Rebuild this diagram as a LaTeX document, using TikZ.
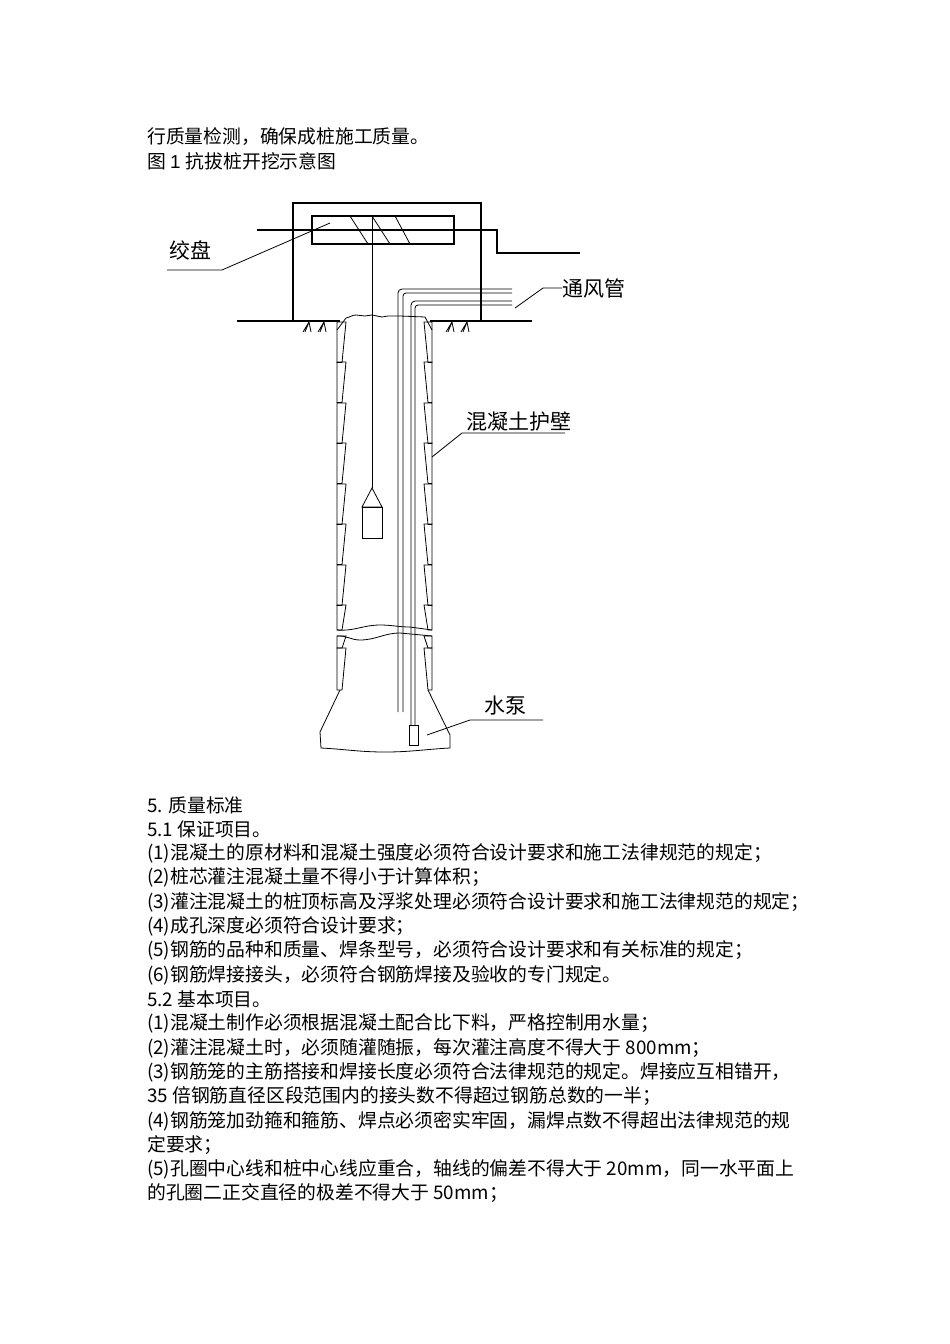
\documentclass[tikz,border=0pt]{standalone}
\usepackage{fontspec}
\setmainfont{Liberation Sans}
\newfontfamily\cjk{Noto Sans CJK SC}
\begin{document}
\begin{tikzpicture}[x=1pt,y=-1pt,
  txt/.style={anchor=west,inner sep=0,font=\fontsize{18.8}{20}\selectfont},
  lbl/.style={inner sep=0,font=\cjk\fontsize{21}{22}\selectfont},
  ln/.style={line width=1.1pt},
  thin/.style={line width=0.8pt}]
\useasboundingbox (0,0) rectangle (950,1344);
% text lines
\node[txt] (t1) at (147,137) {\cjk 行质量检测，确保成桩施工质量。};
\node[txt] (t2) at (147,161) {\cjk 图 \rmfamily 1 \cjk 抗拔桩开挖示意图};
\foreach \i/\y/\s in {
 3/805/{5. 质量标准},
 4/829/{5.1 保证项目。},
 5/853/{(1)混凝土的原材料和混凝土强度必须符合设计要求和施工法律规范的规定；},
 6/877/{(2)桩芯灌注混凝土量不得小于计算体积；},
 7/902/{(3)灌注混凝土的桩顶标高及浮浆处理必须符合设计要求和施工法律规范的规定；},
 8/926/{(4)成孔深度必须符合设计要求；},
 9/950/{(5)钢筋的品种和质量、焊条型号，必须符合设计要求和有关标准的规定；},
 10/975/{(6)钢筋焊接接头，必须符合钢筋焊接及验收的专门规定。},
 11/999/{5.2 基本项目。},
 12/1023/{(1)混凝土制作必须根据混凝土配合比下料，严格控制用水量；},
 13/1048/{(2)灌注混凝土时，必须随灌随振，每次灌注高度不得大于 800mm；},
 14/1072/{(3)钢筋笼的主筋搭接和焊接长度必须符合法律规范的规定。焊接应互相错开，},
 15/1096/{35 倍钢筋直径区段范围内的接头数不得超过钢筋总数的一半；},
 16/1121/{(4)钢筋笼加劲箍和箍筋、焊点必须密实牢固，漏焊点数不得超出法律规范的规},
 17/1145/{定要求；},
 18/1169/{(5)孔圈中心线和桩中心线应重合，轴线的偏差不得大于 20mm，同一水平面上},
 19/1193/{的孔圈二正交直径的极差不得大于 50mm；}}
 {\node[txt] (l\i) at (147,\y) {\cjk \s};}
% shed box
\draw[ln] (293,321) -- (293,203) -- (481,203) -- (481,321);
\draw[ln] (237,321) -- (340,321) (430,321) -- (532,321);
\draw[ln] (312,216) rectangle (454,244);
\draw[thin] (350,216) -- (368,244) (372,216) -- (390,244) (395,216) -- (410,244);
\draw[ln] (257,230) -- (497,230) -- (497,253) -- (580,253);
% soil hatches
\foreach \x in {303,318,446,461}{
 \draw[thin] (\x,332) -- (\x+6,322) -- (\x+8,332) (\x+6,322)--(\x+2,332);}
% rope and bucket
\draw[thin] (372,216) -- (372,488);
\draw[thin] (372,488) -- (362,507) -- (382,507) -- cycle;
\draw[thin] (362,507) rectangle (382,538);
% pile top
\draw[thin] (337,330) -- (346,318) to[out=10,in=180] (356,315) -- (365,316) -- (372,315) -- (382,317) -- (388,316) -- (400,316) -- (425,317) -- (432,330);
% wall segments
\foreach \t in {322,362,403,443,484,524,565,605}{
 \pgfmathsetmacro\b{min(\t+40.5,630)}
 \draw[thin] (337,\t) -- (346,\t) -- (342,\b) -- (337,\b) -- cycle;
 \draw[thin] (432,\t) -- (424,\t) -- (428,\b) -- (432,\b) -- cycle;}
\foreach \t in {636,648}{
 \pgfmathsetmacro\b{\t==636 ? 648 : 690}
 \draw[thin] (337,\t) -- (346,\t) -- (342,\b) -- (337,\b) -- cycle;
 \draw[thin] (432,\t) -- (424,\t) -- (428,\b) -- (432,\b) -- cycle;}
% break lines
\draw[thin] (337,630) to[out=-5,in=180] (380,625) to[out=0,in=180] (410,627) -- (432,630);
\draw[thin] (337,636) to[out=5,in=180] (360,640) to[out=0,in=180] (400,633) -- (432,636);
% bell
\draw[thin] (340,690) -- (320,732) -- (321,748) to[out=-3,in=180] (385,752) to[out=0,in=183] (450,748) -- (450,735) -- (428,690);
% ventilation pipes
\draw[thin,rounded corners=4pt] (398,712) -- (398,289) -- (512,289);
\draw[thin,rounded corners=3pt] (403,712) -- (403,293) -- (512,293);
\draw[thin,rounded corners=4pt] (411,725) -- (411,301) -- (512,301);
\draw[thin,rounded corners=3pt] (415,725) -- (415,305) -- (512,305);
\node[draw,thin,minimum width=9pt,minimum height=20pt,inner sep=0] (pump) at (413.5,735) {};
% labels
\node[lbl] (jiaopan) at (190,250) {绞盘};
\coordinate (jp0) at (167,270); \coordinate (jp1) at (222,270);
\draw[thin] (jp0) -- (jp1) -- (330,223);
\node[lbl,anchor=west] (tfg) at (562,288) {通风管};
\coordinate (tf0) at (515,308);
\draw[thin] (tf0) -- (543,288) -- (tfg.west);
\node[lbl,anchor=west] (hnt) at (466,422) {混凝土护壁};
\coordinate (hn0) at (432,457);
\draw[thin] (hn0) -- (462,433) -- (565,433);
\node[lbl] (sb) at (505,706) {水泵};
\draw[thin] (427,735) -- (470,720) -- (543,720);
\end{tikzpicture}
\end{document}
